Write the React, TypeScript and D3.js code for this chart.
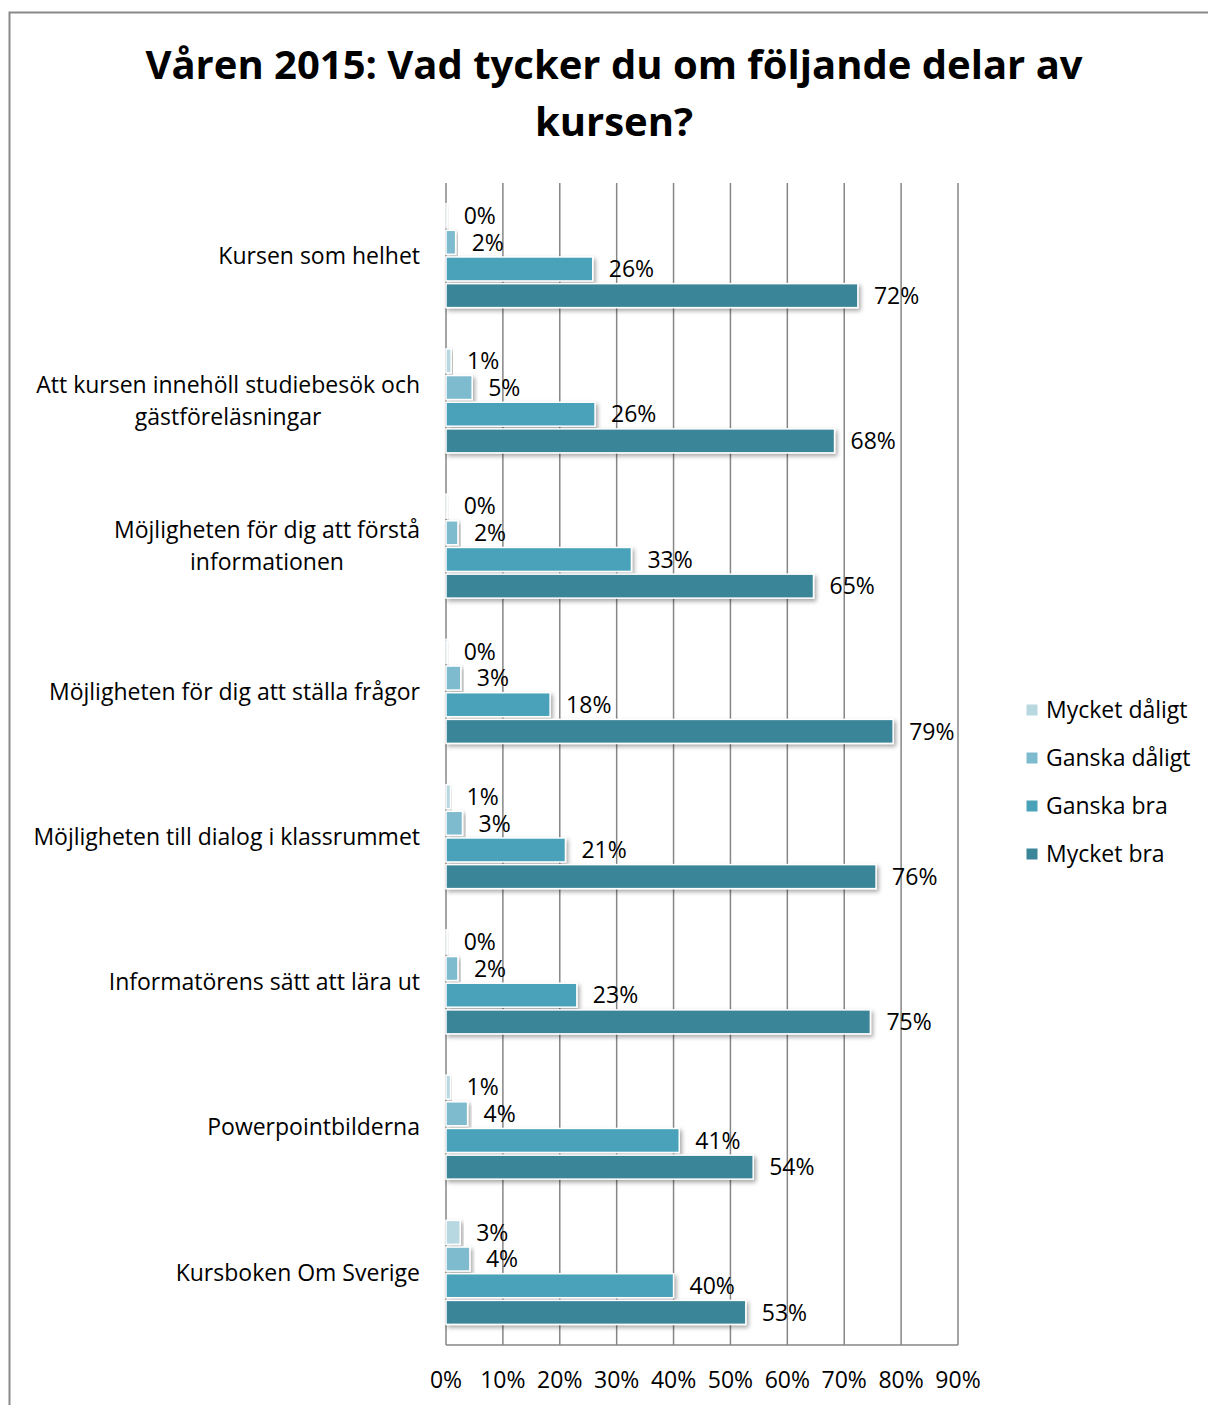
import React, { useEffect, useRef } from "react";
import * as d3 from "d3";

const categories = [
  ["Kursen som helhet"],
  ["Att kursen innehöll studiebesök och", "gästföreläsningar"],
  ["Möjligheten för dig att förstå", "informationen"],
  ["Möjligheten för dig att ställa frågor"],
  ["Möjligheten till dialog i klassrummet"],
  ["Informatörens sätt att lära ut"],
  ["Powerpointbilderna"],
  ["Kursboken Om Sverige"],
];
const seriesNames = ["Mycket dåligt", "Ganska dåligt", "Ganska bra", "Mycket bra"];
const seriesColors = ["#b7d7e1", "#7fbbcf", "#4aa2b9", "#3b8598"];
const mycketDaligt = [0.3, 0.9, 0.3, 0.3, 0.8, 0.3, 0.8, 2.5];
const mycketDaligtLabels = ["0%", "1%", "0%", "0%", "1%", "0%", "1%", "3%"];
const ganskaDaligt = [1.7, 4.6, 2.1, 2.6, 2.9, 2.1, 3.8, 4.2];
const ganskaBra = [25.8, 26.2, 32.6, 18.3, 21.0, 23.0, 41.0, 40.0];
const mycketBra = [72.4, 68.3, 64.6, 78.6, 75.6, 74.6, 54.0, 52.7];
const otherLabels = [
  ["2%", "5%", "2%", "3%", "3%", "2%", "4%", "4%"],
  ["26%", "26%", "33%", "18%", "21%", "23%", "41%", "40%"],
  ["72%", "68%", "65%", "79%", "76%", "75%", "54%", "53%"],
];
const ticks = [0, 10, 20, 30, 40, 50, 60, 70, 80, 90];
const titleLines = ["Våren 2015: Vad tycker du om följande delar av", "kursen?"];

const FONT = "'Open Sans', sans-serif";
const FS = 23;

export default function App() {
  const ref = useRef<SVGSVGElement>(null);
  useEffect(() => {
    const svg = d3.select(ref.current);
    svg.selectAll("*").remove();
    const W = 1208, H = 1405;
    const defs = svg.append("defs");
    const f = defs.append("filter").attr("id", "sh").attr("x", "-10%").attr("y", "-30%").attr("width", "130%").attr("height", "180%");
    f.append("feDropShadow").attr("dx", 2).attr("dy", 2.5).attr("stdDeviation", 2).attr("flood-color", "#000").attr("flood-opacity", 0.35);

    svg.append("rect").attr("width", W).attr("height", H).attr("fill", "#fff");
    svg.append("rect").attr("x", 9.5).attr("y", 12.5).attr("width", 1220).attr("height", 1420)
      .attr("fill", "none").attr("stroke", "#898989").attr("stroke-width", 2);

    titleLines.forEach((t, i) => {
      svg.append("text").attr("x", 614).attr("y", 79 + i * 57).attr("text-anchor", "middle")
        .attr("font-family", FONT).attr("font-weight", "bold").attr("font-size", 40).attr("fill", "#000").text(t);
    });

    const x = d3.scaleLinear().domain([0, 90]).range([446, 958]);
    const top = 183, bottom = 1345;
    const y = d3.scaleBand<number>().domain(d3.range(categories.length)).range([top, bottom]).padding(0);
    const inner = d3.scaleBand<number>().domain([0, 1, 2, 3]).range([0, 104]).paddingInner(0.1).paddingOuter(0);

    const g = svg.append("g");
    ticks.forEach((t) => {
      g.append("line").attr("x1", x(t)).attr("x2", x(t)).attr("y1", top).attr("y2", bottom)
        .attr("stroke", "#868686").attr("stroke-width", 1.5);
    });
    g.append("line").attr("x1", x(0)).attr("x2", x(90)).attr("y1", bottom).attr("y2", bottom)
      .attr("stroke", "#868686").attr("stroke-width", 1.5);

    ticks.forEach((t) => {
      svg.append("text").attr("x", x(t)).attr("y", 1388).attr("text-anchor", "middle")
        .attr("font-family", FONT).attr("font-size", FS).attr("fill", "#000").text(`${t}%`);
    });

    const series = [mycketDaligt, ganskaDaligt, ganskaBra, mycketBra];
    const labels = [mycketDaligtLabels, ...otherLabels];
    categories.forEach((cat, ci) => {
      const gy = y(ci)! + (y.bandwidth() - 104) / 2;
      series.forEach((s, si) => {
        const by = gy + inner(si)!;
        const bw = x(s[ci]) - x(0);
        if (bw > 0.1) {
          svg.append("rect").attr("x", x(0)).attr("y", by).attr("width", bw).attr("height", inner.bandwidth())
            .attr("fill", seriesColors[si]).attr("stroke", "#fff").attr("stroke-width", 1.5).attr("filter", "url(#sh)");
        }
        svg.append("text").attr("x", x(s[ci]) + 16).attr("y", by + inner.bandwidth() / 2).attr("dy", "0.36em")
          .attr("font-family", FONT).attr("font-size", FS).attr("fill", "#000").text(labels[si][ci]);
      });
      const cy = y(ci)! + y.bandwidth() / 2;
      const lines = cat;
      const lh = 32;
      const tmp = lines.map((l) => svg.append("text").attr("font-family", FONT).attr("font-size", FS).text(l));
      const widths = tmp.map((t) => (t.node() as SVGTextElement).getComputedTextLength());
      const maxW = Math.max(...widths);
      tmp.forEach((t, li) => {
        t.attr("x", 420 - maxW / 2).attr("text-anchor", "middle")
          .attr("y", cy + (li - (lines.length - 1) / 2) * lh).attr("dy", "0.36em").attr("fill", "#000");
      });
    });

    seriesNames.forEach((n, i) => {
      const ly = 710 + i * 48;
      svg.append("rect").attr("x", 1026).attr("y", ly - 6).attr("width", 12).attr("height", 12)
        .attr("fill", seriesColors[i]).attr("stroke", "#fff").attr("stroke-width", 1);
      svg.append("text").attr("x", 1046).attr("y", ly).attr("dy", "0.36em")
        .attr("font-family", FONT).attr("font-size", FS).attr("fill", "#000").text(n);
    });
  }, []);
  return (
    <svg ref={ref} width={1208} height={1405} style={{ position: "absolute", left: 0, top: 0, display: "block" }} />
  );
}
